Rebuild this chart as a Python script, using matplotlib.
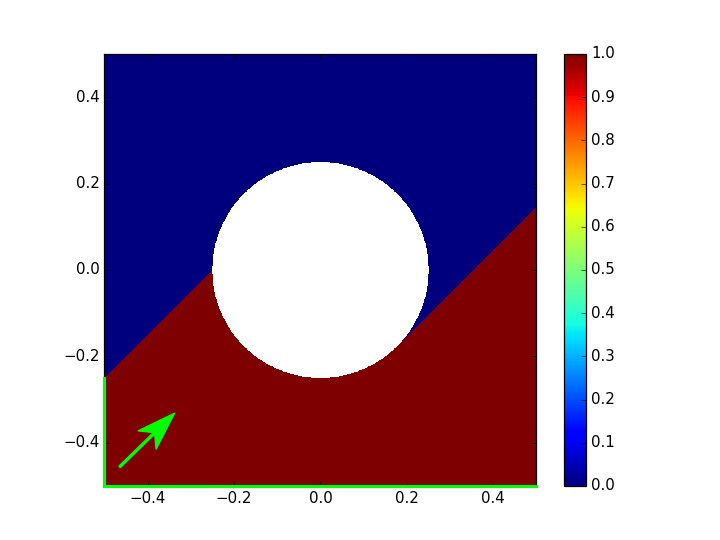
import numpy as np
import matplotlib
matplotlib.use("Agg")
import matplotlib.pyplot as plt

plt.style.use('classic')

# Domain / geometry
x_range = [-0.5, 0.5]
y_range = [-0.5, 0.5]
circle_center = [0.0, 0.0]
circle_radius = 0.25
flow_dir = [1.0, 1.0]              # direction of the arrow
left_inflow_top = -0.25            # left boundary carries value 1 below this y
value_inflow = 1.0
value_other = 0.0

# Boundary segments (inflow, drawn in green)
inflow_left_x = [-0.5, -0.5]
inflow_left_y = [-0.5, -0.25]
inflow_bottom_x = [-0.5, 0.5]
inflow_bottom_y = [-0.5, -0.5]

# Arrow
arrow_start = [-0.465, -0.456]
arrow_delta = [0.128, 0.125]

colorbar_ticks = [0.0, 0.1, 0.2, 0.3, 0.4, 0.5, 0.6, 0.7, 0.8, 0.9, 1.0]

# Build the field: value carried along characteristics of direction flow_dir
n = 1200
xs = np.linspace(x_range[0], x_range[1], n)
ys = np.linspace(y_range[0], y_range[1], n)
X, Y = np.meshgrid(xs, ys)
d = np.array(flow_dir) / np.hypot(*flow_dir)
cx, cy = circle_center
# backward ray from each point
rx, ry = X - cx, Y - cy
tstar = rx * d[0] + ry * d[1]                      # along-flow coordinate of closest approach
dist = np.abs(rx * d[1] - ry * d[0])               # perpendicular distance
inside = rx**2 + ry**2 < circle_radius**2
blocked = (dist < circle_radius) & (tstar > 0)
# exit point of the backward ray
t_left = (X - x_range[0]) / d[0]
t_bot = (Y - y_range[0]) / d[1]
exits_left = t_left < t_bot
y_exit = Y - t_left * d[1]
F = np.where(exits_left & (y_exit > left_inflow_top), value_other, value_inflow)
F = np.where(blocked, value_other, F)
F = np.ma.masked_where(inside, F)

fig = plt.figure(figsize=(8, 6), dpi=90)
ax = fig.add_subplot(111)
im = ax.imshow(F, origin='lower', extent=[x_range[0], x_range[1], y_range[0], y_range[1]],
               cmap='jet', vmin=0, vmax=1, interpolation='nearest')
ax.set_xlim(x_range)
ax.set_ylim(y_range)
ax.set_aspect('equal')
ax.set_xticks([-0.4, -0.2, 0.0, 0.2, 0.4])
ax.set_yticks([-0.4, -0.2, 0.0, 0.2, 0.4])

ax.plot(inflow_left_x, inflow_left_y, color='#00ff00', lw=2.5, clip_on=False, zorder=5)
ax.plot(inflow_bottom_x, inflow_bottom_y, color='#00ff00', lw=2.5, clip_on=False, zorder=5)
ax.arrow(arrow_start[0], arrow_start[1], arrow_delta[0], arrow_delta[1],
         width=0.005, head_width=0.06, head_length=0.09, overhang=0.25,
         length_includes_head=True, color='#00ff00', zorder=6)

cb = fig.colorbar(im, ax=ax)
cb.set_ticks(colorbar_ticks)

fig.savefig('out.png', dpi=90, facecolor='white')
